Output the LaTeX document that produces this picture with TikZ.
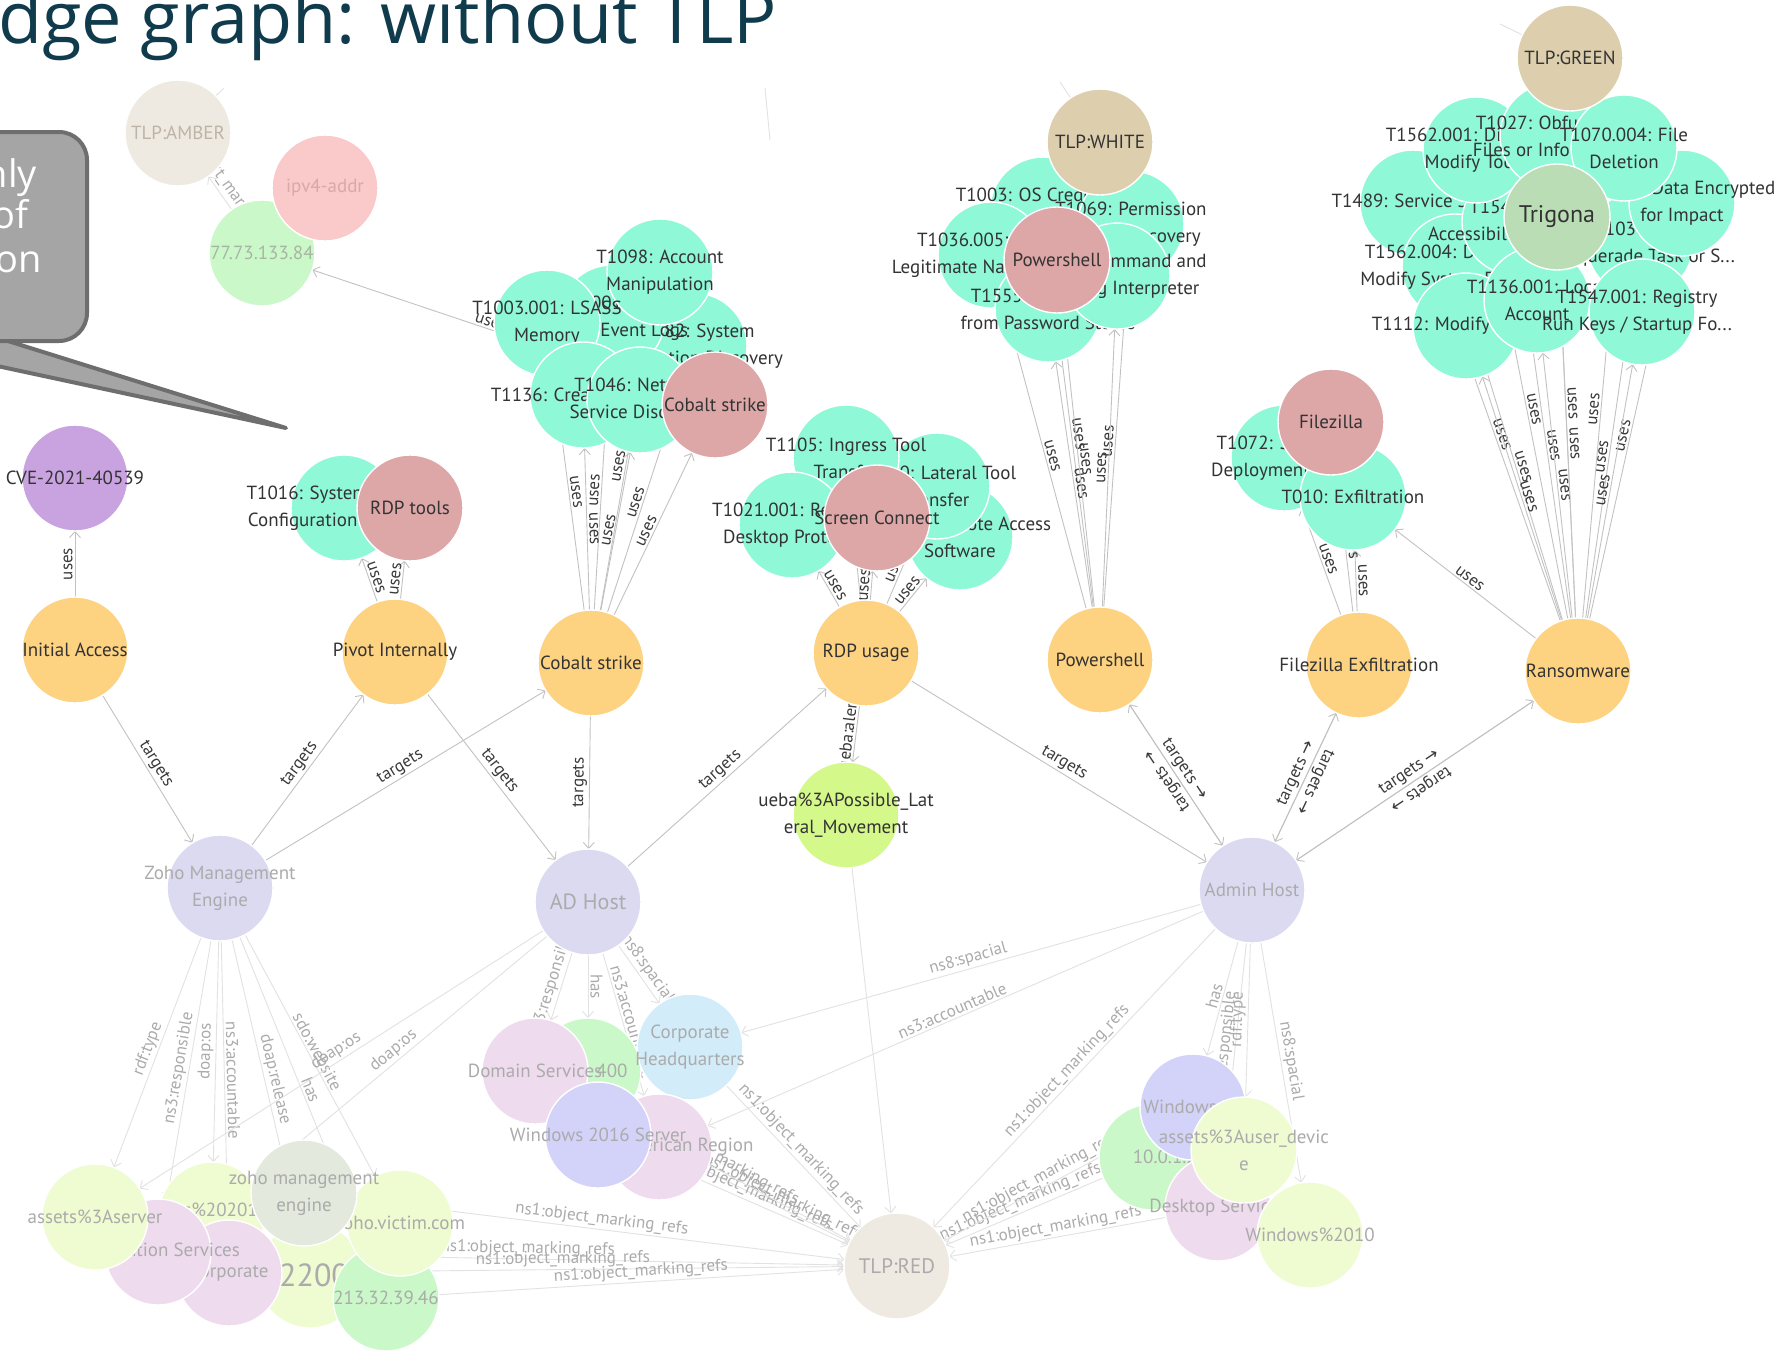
\documentclass[tikz,border=0pt]{standalone}
\usepackage{fontspec}
\setmainfont{PT Sans}
\newfontfamily\titlefont{Open Sans}
\newfontfamily\symfont{DejaVu Sans}
\usetikzlibrary{arrows.meta}

% palette
\definecolor{cTech}{HTML}{8EF8D7}
\definecolor{cAct}{HTML}{FDD281}
\definecolor{cTool}{HTML}{DDA7A8}
\definecolor{cVuln}{HTML}{C9A3E0}
\definecolor{cTlp}{HTML}{DDCFAE}
\definecolor{cMal}{HTML}{BADDB5}
\definecolor{cAlert}{HTML}{D5F88B}
\definecolor{cFHost}{HTML}{DCDAF1}
\definecolor{cFPink}{HTML}{EFDBEE}
\definecolor{cFGreen}{HTML}{CBF8C9}
\definecolor{cFLime}{HTML}{EFFBD0}
\definecolor{cFBlue}{HTML}{D3ECFA}
\definecolor{cFViolet}{HTML}{D3D2F9}
\definecolor{cFSage}{HTML}{E3E9DD}
\definecolor{cFTlp}{HTML}{EFEAE1}
\definecolor{cFRose}{HTML}{FAC9C9}
\definecolor{cInk}{HTML}{333333}
\definecolor{cLabel}{HTML}{3A3A3A}
\definecolor{cFaint}{HTML}{ABABAB}
\definecolor{cRoseInk}{HTML}{D6AAAA}
\definecolor{cSageInk}{HTML}{A6B6A2}
\definecolor{cAmberInk}{HTML}{BDB4A7}
\definecolor{cEdge}{HTML}{C2C2C2}
\definecolor{cFEdge}{HTML}{E2E2E2}
\definecolor{cTitle}{HTML}{0F3B4C}
\definecolor{cBox}{HTML}{A5A5A5}
\definecolor{cBoxLine}{HTML}{6E6E6E}

\pgfdeclarelayer{bglayer}
\pgfdeclarelayer{edgelayer}
\pgfsetlayers{bglayer,edgelayer,main}

% a graph vertex: disc first, then its caption, so later discs hide earlier captions
\newcommand{\gnode}[6][]{%
  \node[#2] (#4) at (#5) {};%
  \node[#3,#1] at (#4.center) {#6};%
}

\tikzset{
  disc/.style={circle, draw=white, line width=1.4pt, minimum size=106pt, inner sep=0pt, outer sep=0pt},
  gTech/.style={disc, fill=cTech},
  gAct/.style={disc, fill=cAct},
  gTool/.style={disc, fill=cTool},
  gVuln/.style={disc, fill=cVuln},
  gTlp/.style={disc, fill=cTlp},
  gMal/.style={disc, fill=cMal},
  gAlert/.style={disc, fill=cAlert},
  gFHost/.style={disc, fill=cFHost},
  gFPink/.style={disc, fill=cFPink},
  gFGreen/.style={disc, fill=cFGreen},
  gFLime/.style={disc, fill=cFLime},
  gFBlue/.style={disc, fill=cFBlue},
  gFViolet/.style={disc, fill=cFViolet},
  gFSage/.style={disc, fill=cFSage},
  gFTlp/.style={disc, fill=cFTlp},
  gFRose/.style={disc, fill=cFRose},
  txt/.style={align=center, text=cInk, inner sep=0pt, font=\fontsize{19}{27}\selectfont},
  ftxt/.style={txt, text=cFaint},
  eg/.style={draw=cEdge, line width=0.9pt, -{Straight Barb[length=6pt,width=11pt]}},
  fe/.style={eg, draw=cFEdge},
  el/.style={sloped, above, inner sep=2pt, text=cLabel, font=\fontsize{17}{17}\selectfont},
  fl/.style={el, text=cFaint},
}

\begin{document}
\begin{tikzpicture}[x=1pt,y=-1pt]
\useasboundingbox (0,0) rectangle (1780,1350);
\begin{pgfonlayer}{bglayer}
  \fill[white] (0,0) rectangle (1780,1350);
\end{pgfonlayer}
\clip (0,0) rectangle (1780,1350);

% ---------- faded indicator group, top left ----------
\gnode{gFTlp}{ftxt,text=cAmberInk}{tlpamber}{178,133}{TLP:AMBER}
\gnode{gFGreen}{ftxt,text=cSageInk}{ipa}{262,253}{77.73.133.84}
\gnode{gFRose}{ftxt,text=cRoseInk}{ipv4}{325,188}{ipv4-addr}

% ---------- initial access ----------
\gnode{gVuln}{txt}{cve}{75,478}{CVE-2021-40539}
\gnode{gAct}{txt}{initacc}{75,650}{Initial Access}

% ---------- pivot ----------
\gnode{gTech}{txt}{t1016}{344,508}{T1016: System Network\\Configuration Discovery}
\gnode{gTool}{txt}{rdptools}{410,508}{RDP tools}
\gnode{gAct}{txt}{pivot}{395,652}{Pivot Internally}

% ---------- cobalt strike ----------
\gnode{gAct}{txt}{cobaltA}{591,663}{Cobalt strike}
\gnode{gTech}{txt}{t1082}{694,346}{T1082: System\\Information Discovery}
\gnode[xshift=-7pt]{gTech}{txt}{t1070}{612,318}{T1070.001: Clear\\Windows Event Logs}
\gnode{gTech}{txt}{t1098}{660,272}{T1098: Account\\Manipulation}
\gnode{gTech}{txt}{t1003a}{547,323}{T1003.001: LSASS\\Memory}
\gnode{gTech}{txt}{t1136}{583,395}{T1136: Create Account}
\gnode{gTech}{txt}{t1046}{640,400}{T1046: Network\\Service Discovery}
\gnode{gTool}{txt}{cobaltT}{715,405}{Cobalt strike}

% ---------- RDP ----------
\gnode{gTech}{txt}{t1219}{960,537}{T1219: Remote Access\\Software}
\gnode{gTech}{txt}{t1570}{937,486}{T1570: Lateral Tool\\Transfer}
\gnode{gTech}{txt}{t1105}{846,458}{T1105: Ingress Tool\\Transfer}
\gnode{gTech}{txt}{t1021}{792,525}{T1021.001: Remote\\Desktop Protocol}
\gnode{gTool}{txt}{screenc}{877,518}{Screen Connect}
\gnode{gAct}{txt}{rdpusage}{866,653}{RDP usage}
\gnode{gAlert}{txt}{ueba}{846,815}{ueba\%3APossible\_Lat\\eral\_Movement}

% ---------- powershell ----------
\gnode{gTech}{txt}{t1003b}{1043,210}{T1003: OS Credential\\Dumping}
\gnode{gTech}{txt}{t1069}{1131,224}{T1069: Permission\\Groups Discovery}
\gnode{gTech}{txt}{t1036}{991,255}{T1036.005: Match\\Legitimate Name or Lo...}
\gnode{gTech}{txt}{t1555}{1048,309}{T1555: Credentials\\from Password Stores}
\gnode{gTech}{txt}{t1059}{1117,276}{T1059: Command and\\Scripting Interpreter}
\gnode{gTool}{txt}{pshellT}{1057,260}{Powershell}
\gnode{gTlp}{txt}{tlpwhite}{1100,142}{TLP:WHITE}
\gnode{gAct}{txt}{pshellA}{1100,660}{Powershell}

% ---------- filezilla ----------
\gnode{gTech}{txt}{t1072}{1284,458}{T1072: Software\\Deployment Tools}
\gnode{gTech}{txt}{t010}{1353,497}{T010: Exfiltration}
\gnode{gTool}{txt}{filez}{1331,422}{Filezilla}
\gnode{gAct}{txt}{filezA}{1359,665}{Filezilla Exfiltration}

% ---------- ransomware ----------
\gnode{gTech}{txt}{t1489}{1413,203}{T1489: Service Stop}
\gnode{gTech}{txt}{t1562b}{1455,267}{T1562.004: Disable or\\Modify System Firewall}
\gnode{gTech}{txt}{t1112}{1466,326}{T1112: Modify Registry}
\gnode{gTech}{txt}{t1546}{1515,222}{T1546.008:\\Accessibility Features}
\gnode{gTech}{txt}{t1036b}{1640,244}{T1036.004:\\Masquerade Task or S...}
\gnode{gTech}{txt}{t1486}{1682,203}{T1486: Data Encrypted\\for Impact}
\gnode{gTech}{txt}{t1562a}{1476,150}{T1562.001: Disable or\\Modify Tools}
\gnode{gTech}{txt}{t1027}{1553,136}{T1027: Obfuscated\\Files or Information}
\gnode{gTech}{txt}{t1070b}{1624,148}{T1070.004: File\\Deletion}
\gnode{gTech}{txt}{t1136b}{1537,300}{T1136.001: Local\\Account}
\gnode[xshift=-5pt]{gTech}{txt}{t1547}{1642,312}{T1547.001: Registry\\Run Keys / Startup Fo...}
\gnode{gTlp}{txt}{tlpgreen}{1570,58}{TLP:GREEN}
\gnode{gMal}{txt,font=\fontsize{24}{27}\selectfont}{trigona}{1557,217}{Trigona}
\gnode{gAct}{txt}{ransom}{1578,671}{Ransomware}

% ---------- faded hosts ----------
\gnode{gFHost}{ftxt}{zoho}{220,888}{Zoho Management\\Engine}
\gnode{gFHost}{ftxt,font=\fontsize{22}{27}\selectfont}{adhost}{588,902}{AD Host}
\gnode{gFHost}{ftxt}{adminh}{1252,890}{Admin Host}

% zoho assets
\gnode[xshift=-19pt,yshift=5pt]{gFLime}{ftxt}{win2019}{212,1215}{Windows\%202019}
\gnode[xshift=4pt]{gFLime}{ftxt,font=\fontsize{32}{32}\selectfont}{n2200}{310,1275}{2200}
\gnode{gFPink}{ftxt}{corpz}{229,1273}{Corporate}
\gnode{gFPink}{ftxt}{appsv}{158,1252}{Application Services}
\gnode{gFLime}{ftxt}{assetsrv}{95,1217}{assets\%3Aserver}
\gnode{gFGreen}{ftxt}{ip213}{386,1298}{213.32.39.46}
\gnode{gFLime}{ftxt}{zohoweb}{400,1223}{zoho.victim.com}
\gnode{gFSage}{ftxt}{zohoeng}{304,1193}{zoho management\\engine}

% AD host assets
\gnode[xshift=24pt]{gFGreen}{ftxt}{n400}{588,1071}{400}
\gnode{gFPink}{ftxt}{domsv}{535,1071}{Domain Services}
\gnode{gFBlue}{ftxt}{corphq}{690,1047}{Corporate\\Headquarters}
\gnode{gFPink}{ftxt}{amreg}{659,1147}{North American Region}
\gnode{gFViolet}{ftxt}{win2016}{598,1135}{Windows 2016 Server}

% admin host assets
\gnode[xshift=18pt]{gFGreen}{ftxt}{ip10}{1152,1157}{10.0.1.23}
\gnode{gFViolet}{ftxt}{winA}{1193,1107}{Windows 10}
\gnode{gFPink}{ftxt}{desksv}{1218,1208}{Desktop Services}
\gnode{gFLime}{ftxt}{assetusr}{1244,1150}{assets\%3Auser\_devic\\e}
\gnode{gFLime}{ftxt}{win2010}{1310,1235}{Windows\%2010}
\gnode{gFTlp}{ftxt,font=\fontsize{21}{27}\selectfont}{tlpred}{897,1266}{TLP:RED}

% loose ends of edges leaving the view
\coordinate (ambOut) at (224,88);
\coordinate (whiteOut) at (1060,82);
\coordinate (greenOut) at (1500,24);
\coordinate (strayA) at (765,88);
\coordinate (strayB) at (770,140);

% ---------- edges ----------
\begin{pgfonlayer}{edgelayer}
  \draw[eg] (initacc) -- node[el]{uses} (cve);
  \draw[eg] (pivot) -- node[el]{uses} (t1016);
  \draw[eg] (pivot) -- node[el]{uses} (rdptools);
  \foreach \t in {t1082,t1070,t1003a,t1098,t1136,t1046,cobaltT}
    \draw[eg] (cobaltA) -- node[el]{uses} (\t);
  \foreach \t in {t1105,t1219,t1570,t1021,screenc}
    \draw[eg] (rdpusage) -- node[el]{uses} (\t);
  \foreach \t in {t1003b,t1069,t1036,t1555,t1059,pshellT}
    \draw[eg] (pshellA) -- node[el]{uses} (\t);
  \foreach \t in {t1072,t010,filez}
    \draw[eg] (filezA) -- node[el]{uses} (\t);
  \foreach \t in {t1489,t1562b,t1112,t1546,t1036b,t1486,t1562a,t1027,t1070b,t1136b,t1547,trigona}
    \draw[eg] (ransom) -- node[el]{uses} (\t);
  \draw[eg] (ransom) -- node[el]{uses} (t010);
  \draw[eg] (cobaltT) -- node[el]{uses} (ipa);
  \draw[eg] (rdpusage) -- node[el]{ueba:alert} (ueba);

  \draw[eg] (initacc) -- node[el]{targets} (zoho);
  \draw[eg] (zoho) -- node[el]{targets} (pivot);
  \draw[eg] (zoho) -- node[el]{targets} (cobaltA);
  \draw[eg] (pivot) -- node[el]{targets} (adhost);
  \draw[eg] (cobaltA) -- node[el]{targets} (adhost);
  \draw[eg] (adhost) -- node[el]{targets} (rdpusage);
  \draw[eg] (rdpusage) -- node[el]{targets} (adminh);

  % two-way links between the admin host and three actions
  \draw[eg] (pshellA) -- node[el]{targets {\symfont →}} (adminh);
  \draw[eg] (adminh) -- node[el, allow upside down]{targets {\symfont →}} (pshellA);
  \draw[eg] (adminh) -- node[el]{targets {\symfont →}} (filezA);
  \draw[eg] (filezA) -- node[el, allow upside down]{targets {\symfont →}} (adminh);
  \draw[eg] (adminh) -- node[el]{targets {\symfont →}} (ransom);
  \draw[eg] (ransom) -- node[el, allow upside down]{targets {\symfont →}} (adminh);

  % faded context
  \draw[fe] (ipa) -- node[fl]{ns1:object\_marking\_refs} (tlpamber);
  \draw[fe] (zoho) -- node[fl]{rdf:type} (assetsrv);
  \draw[fe] (zoho) -- node[fl]{ns3:responsible} (appsv);
  \draw[fe] (zoho) -- node[fl]{doap:os} (win2019);
  \draw[fe] (zoho) -- node[fl]{ns3:accountable} (corpz);
  \draw[fe] (zoho) -- node[fl]{doap:release} (n2200);
  \draw[fe] (zoho) -- node[fl]{sdo:website} (zohoweb);
  \draw[fe] (zoho) -- node[fl]{has} (ip213);
  \draw[fe] (adhost) -- node[fl]{doap:os} (assetsrv);
  \draw[fe] (adhost) -- node[fl]{doap:os} (win2019);
  \draw[fe] (adhost) -- node[fl]{ns3:responsible} (domsv);
  \draw[fe] (adhost) -- node[fl]{has} (n400);
  \draw[fe] (adhost) -- node[fl]{ns3:accountable} (amreg);
  \draw[fe] (adhost) -- node[fl]{ns8:spacial} (corphq);
  \draw[fe] (adminh) -- node[fl]{ns8:spacial} (corphq);
  \draw[fe] (adminh) -- node[fl]{ns3:accountable} (amreg);
  \draw[fe] (adminh) -- node[fl]{ns1:object\_marking\_refs} (tlpred);
  \draw[fe] (adminh) -- node[fl]{has} (winA);
  \draw[fe] (adminh) -- node[fl]{ns3:responsible} (desksv);
  \draw[fe] (adminh) -- node[fl]{rdf:type} (assetusr);
  \draw[fe] (adminh) -- node[fl]{ns8:spacial} (win2010);
  \foreach \s in {zohoeng,appsv,corpz,ip213,corphq,amreg,win2016,domsv,ip10,winA,desksv}
    \draw[fe] (\s) -- node[fl]{ns1:object\_marking\_refs} (tlpred);
  \draw[fe] (ueba) -- (tlpred);
  \draw[fe,-] (tlpamber) -- (ambOut);
  \draw[fe,-] (tlpwhite) -- (whiteOut);
  \draw[fe,-] (tlpgreen) -- (greenOut);
  \draw[fe,-] (strayA) -- (strayB);
\end{pgfonlayer}

% ---------- heading ----------
\node[anchor=base west, inner sep=0pt, text=cTitle,
      font=\titlefont\fontsize{72}{72}\selectfont] (heading) at (-2,43) {dge graph: without TLP};

% ---------- callout ----------
\draw[fill=cBox, draw=cBoxLine, line width=4pt, line join=round]
  (-40,326) -- (286,428) -- (-40,358) -- cycle;
\draw[fill=cBox, draw=cBoxLine, line width=4pt, rounded corners=28pt]
  (-60,132) rectangle (87,341);
\node[anchor=base east, inner sep=0pt, text=white, font=\titlefont\fontsize{38}{38}\selectfont] (callA) at (37,187) {nly};
\node[anchor=base east, inner sep=0pt, text=white, font=\titlefont\fontsize{38}{38}\selectfont] (callB) at (29,228) {of};
\node[anchor=base east, inner sep=0pt, text=white, font=\titlefont\fontsize{38}{38}\selectfont] (callC) at (42,272) {on};
\end{tikzpicture}
\end{document}
